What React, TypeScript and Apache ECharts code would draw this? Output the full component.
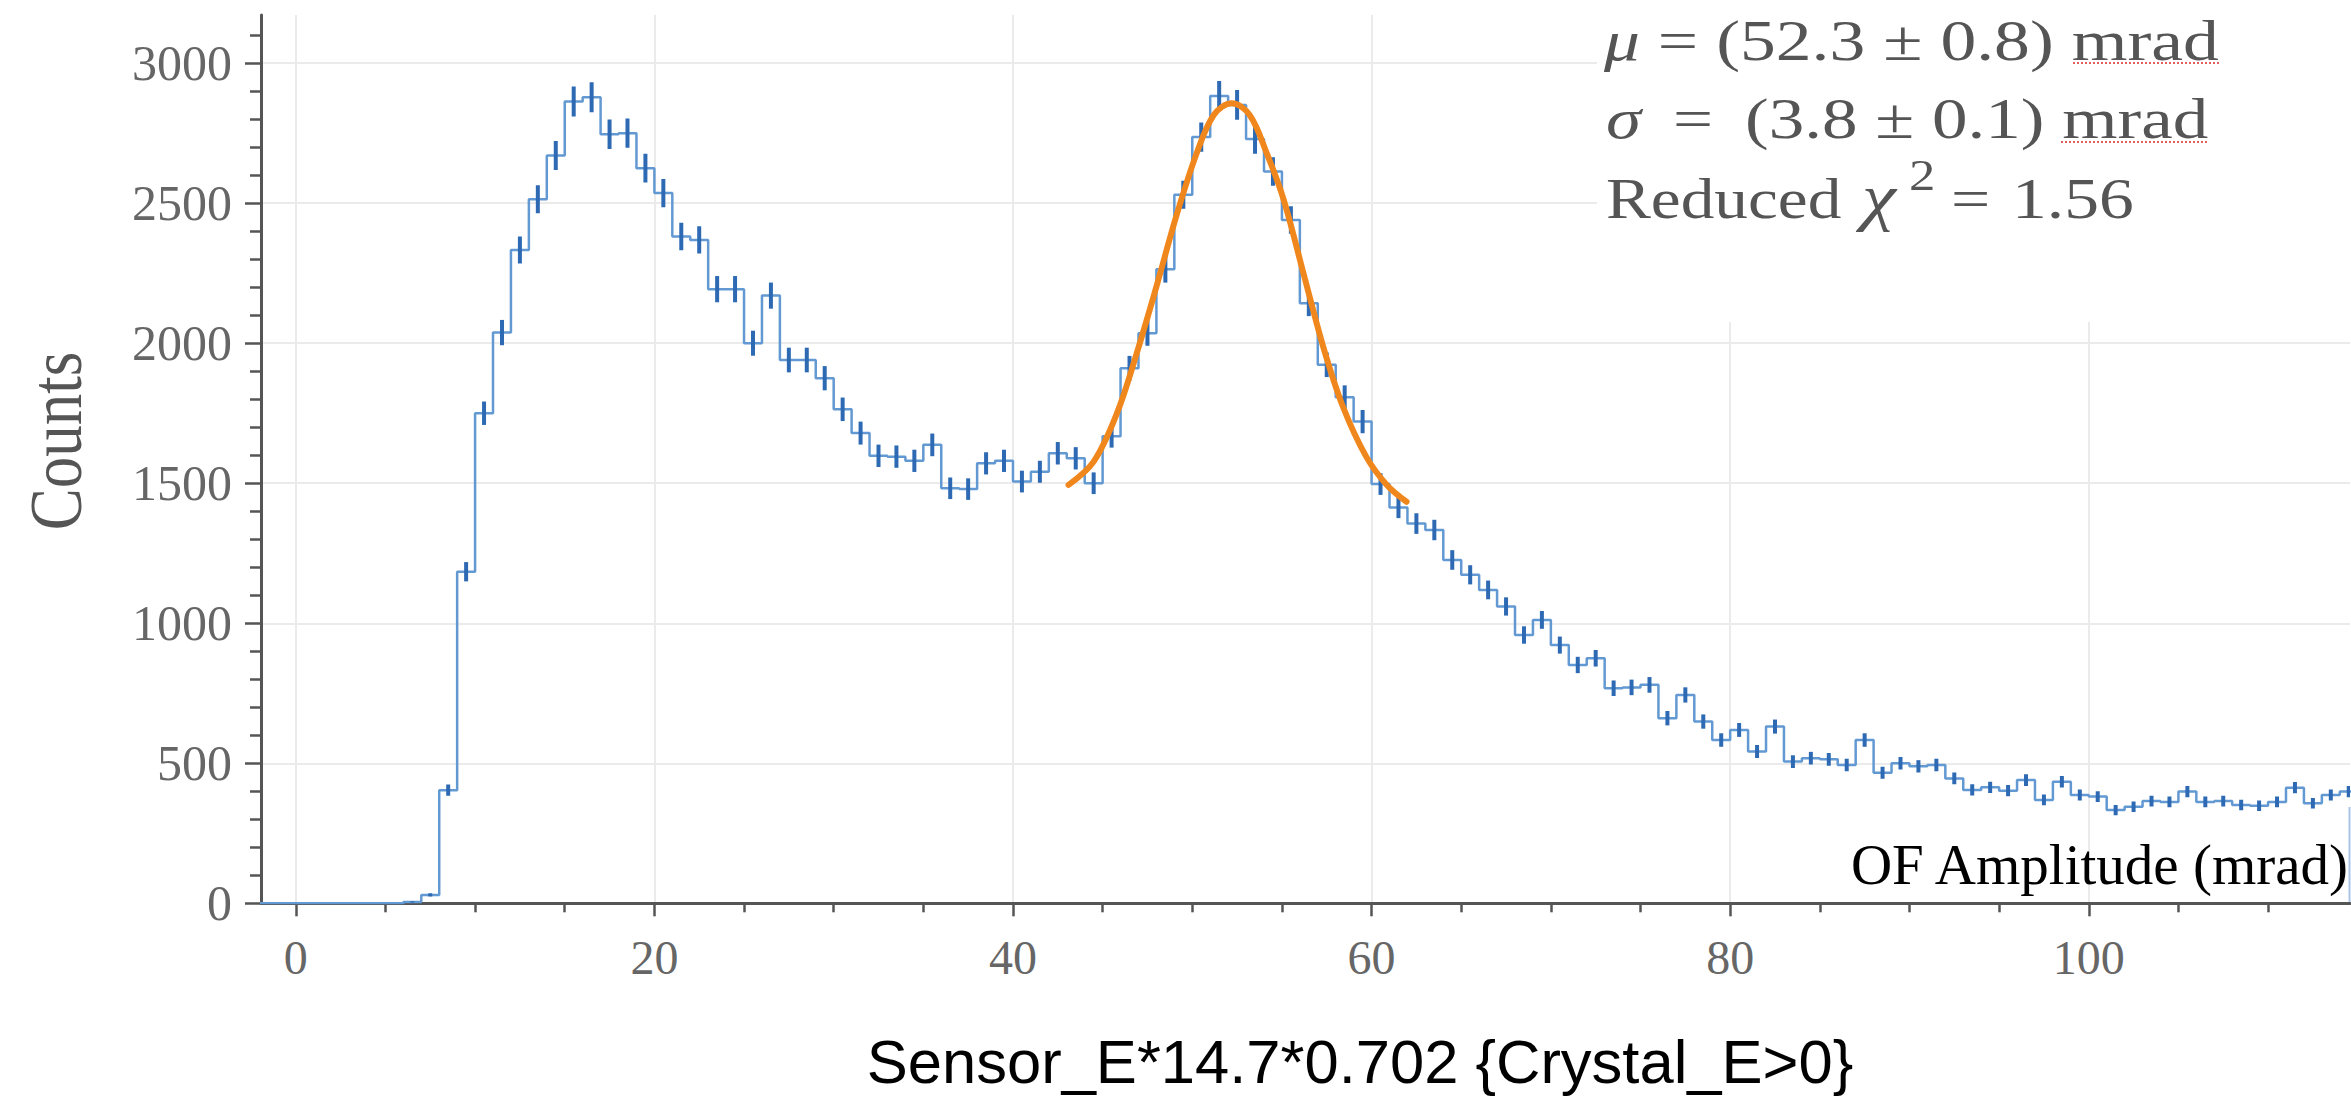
import React, { useEffect, useRef } from 'react';
import * as echarts from 'echarts';

// ---------- data ----------
const BIN_LOW = -2;
const BIN_WIDTH = 1;
// counts per 1-mrad bin, starting at BIN_LOW
const counts: number[] = [
  0, 0, // -2, -1
  0, 0, 0, 0, 0, 0, 5, 30, 404, 1184, // 0-9
  1750, 2038, 2333, 2514, 2670, 2863, 2878, 2746, 2750, 2625, // 10-19
  2536, 2381, 2369, 2193, 2193, 2000, 2170, 1940, 1940, 1875, // 20-29
  1764, 1679, 1598, 1595, 1580, 1637, 1482, 1479, 1571, 1580, // 30-39
  1506, 1541, 1607, 1589, 1500, 1668, 1911, 2036, 2264, 2530, // 40-49
  2736, 2883, 2851, 2729, 2613, 2440, 2143, 1923, 1807, 1720, // 50-59
  1497, 1413, 1356, 1333, 1226, 1173, 1119, 1060, 958, 1012, // 60-69
  922, 851, 875, 768, 771, 780, 661, 744, 649, 583, // 70-79
  619, 542, 631, 506, 518, 514, 494, 583, 466, 500, // 80-89
  489, 494, 446, 405, 414, 402, 440, 369, 434, 387, // 90-99
  381, 333, 345, 365, 362, 399, 362, 365, 351, 348, // 100-109
  362, 413, 357, 387, 399, // 110-114
];

// gaussian fit curve
const fitX: number[] = [43.1, 44.5, 45.8, 46.9, 48.0, 49.1, 50.25, 51.2, 52.2, 53.2, 54.15, 55.1, 56.2, 57.3, 58.4, 59.7, 60.85, 61.95];
const fitY: number[] = [1494, 1577, 1750, 1964, 2202, 2452, 2679, 2815, 2857, 2815, 2679, 2512, 2250, 1988, 1774, 1595, 1494, 1434];

const xMajorTicks: number[] = [0, 20, 40, 60, 80, 100];
const xMinorTicks: number[] = [5, 10, 15, 25, 30, 35, 45, 50, 55, 65, 70, 75, 85, 90, 95, 105, 110];
const yMajorTicks: number[] = [0, 500, 1000, 1500, 2000, 2500, 3000];
const yMinorTicks: number[] = [
  100, 200, 300, 400, 600, 700, 800, 900, 1100, 1200, 1300, 1400, 1600, 1700, 1800, 1900,
  2100, 2200, 2300, 2400, 2600, 2700, 2800, 2900, 3100,
];

const xTitle = 'Sensor_E*14.7*0.702 {Crystal_E>0}';
const yTitle = 'Counts';
const unitNote = 'OF Amplitude (mrad)';
const fitLine1 = '{i|μ}{n| = (52.3 ± 0.8) mrad}';
const fitLine2 = '{i|σ}{n| \u2009=\u2009 (3.8 ± 0.1) mrad}';

// ---------- styles / layout ----------
const X_MIN = -1.94;
const X_MAX = 114.57;
const Y_MAX = 3172;
const SERIF = '"Liberation Serif", "Times New Roman", serif';
const SANS = '"Liberation Sans", Arial, sans-serif';
const AXIS_COLOR = '#555555';
const LABEL_COLOR = '#666666';
const GRID_COLOR = '#ebebeb';
const STEP_COLOR = '#6399d2';
const ERR_COLOR = '#2d6ab3';
const FIT_COLOR = '#f0871c';
const NOTE_COLOR = '#555555';
const NOTE_SIZE = 58;
const NOTE_STRETCH = 1.2;

function buildOption() {
  const histData: number[][] = counts.map((c, i) => [BIN_LOW + i * BIN_WIDTH, c]);
  histData.push([BIN_LOW + counts.length * BIN_WIDTH, counts[counts.length - 1]]);
  const errData: number[][] = counts
    .map((c, i) => [BIN_LOW + (i + 0.5) * BIN_WIDTH, c, Math.sqrt(c)])
    .filter((d) => d[1] > 0);
  const fitData: number[][] = fitX.map((x, i) => [x, fitY[i]]);

  const noteFont = (italic: boolean, size = NOTE_SIZE) => ({
    fill: NOTE_COLOR,
    fontFamily: SERIF,
    fontSize: size,
    fontStyle: italic ? 'italic' : 'normal',
  });

  const noteText = (text: string, x: number, baseline: number, opts: any = {}) => {
    const size = opts.size || NOTE_SIZE;
    return {
      type: 'text',
      x,
      y: baseline - 0.3375 * size,
      scaleX: opts.stretch || NOTE_STRETCH,
      z: 50,
      silent: true,
      style: {
        text,
        ...noteFont(!!opts.italic, size),
        align: 'left',
        textAlign: 'left',
        verticalAlign: 'middle',
        textVerticalAlign: 'middle',
      },
    };
  };

  const richLine = (text: string, x: number, baseline: number, stretch: number) => ({
    type: 'text',
    x,
    y: baseline - 0.3375 * NOTE_SIZE,
    scaleX: stretch,
    z: 50,
    silent: true,
    style: {
      text,
      ...noteFont(false),
      rich: { i: noteFont(true), n: noteFont(false) },
      align: 'left',
      textAlign: 'left',
      verticalAlign: 'middle',
      textVerticalAlign: 'middle',
    },
  });

  const tickLine = { color: AXIS_COLOR, width: 2.5 };

  return {
    animation: false,
    backgroundColor: '#ffffff',
    textStyle: { fontFamily: SERIF },
    grid: {
      left: 261,
      top: 15,
      right: 1,
      bottom: 211.7,
      containLabel: false,
      outerBoundsMode: 'none',
    },
    xAxis: [
      {
        type: 'value',
        min: X_MIN,
        max: X_MAX,
        position: 'bottom',
        axisLine: { show: true, onZero: false, lineStyle: { color: AXIS_COLOR, width: 3 } },
        axisTick: { show: true, inside: false, length: 13, customValues: xMajorTicks, lineStyle: tickLine },
        axisLabel: {
          show: true,
          customValues: xMajorTicks,
          margin: 30,
          fontFamily: SERIF,
          fontSize: 48,
          color: LABEL_COLOR,
          formatter: (v: number) => (Math.abs(v - Math.round(v / 20) * 20) < 1e-6 ? String(Math.round(v)) : ''),
        },
        splitLine: { show: true, lineStyle: { color: GRID_COLOR, width: 2 } },
        minorTick: { show: false },
        minorSplitLine: { show: false },
      },
      {
        type: 'value',
        min: X_MIN,
        max: X_MAX,
        position: 'bottom',
        gridIndex: 0,
        axisLine: { show: false, onZero: false },
        axisLabel: { show: false },
        splitLine: { show: false },
        axisTick: { show: true, inside: false, length: 9, customValues: xMinorTicks, lineStyle: tickLine },
      },
    ],
    yAxis: [
      {
        type: 'value',
        min: 0,
        max: Y_MAX,
        position: 'left',
        axisLine: { show: true, onZero: false, lineStyle: { color: AXIS_COLOR, width: 3 } },
        axisTick: { show: true, inside: false, length: 16, customValues: yMajorTicks, lineStyle: tickLine },
        axisLabel: {
          show: true,
          customValues: yMajorTicks,
          margin: 29,
          fontFamily: SERIF,
          fontSize: 50,
          color: LABEL_COLOR,
          formatter: (v: number) => (Math.abs(v % 500) < 1e-6 ? String(v) : ''),
        },
        splitLine: { show: true, lineStyle: { color: GRID_COLOR, width: 2 } },
        minorTick: { show: false },
      },
      {
        type: 'value',
        min: 0,
        max: Y_MAX,
        position: 'left',
        gridIndex: 0,
        axisLine: { show: false, onZero: false },
        axisLabel: { show: false },
        splitLine: { show: false },
        axisTick: { show: true, inside: false, length: 11, customValues: yMinorTicks, lineStyle: tickLine },
      },
    ],
    series: [
      {
        type: 'line',
        name: 'histogram',
        xAxisIndex: 0,
        yAxisIndex: 0,
        data: histData,
        step: 'end',
        symbol: 'none',
        showSymbol: false,
        silent: true,
        lineStyle: { color: STEP_COLOR, width: 2.5 },
        z: 2,
      },
      {
        type: 'custom',
        name: 'errors',
        xAxisIndex: 0,
        yAxisIndex: 0,
        data: errData,
        silent: true,
        clip: true,
        z: 3,
        renderItem: (params: any, api: any) => {
          const x = api.value(0);
          const y = api.value(1);
          const e = api.value(2);
          const p1 = api.coord([x, y - e]);
          const p2 = api.coord([x, y + e]);
          return {
            type: 'line',
            shape: { x1: p1[0], y1: p1[1], x2: p2[0], y2: p2[1] },
            style: { stroke: ERR_COLOR, lineWidth: 4 },
          };
        },
      },
      {
        type: 'line',
        name: 'fit',
        xAxisIndex: 0,
        yAxisIndex: 0,
        data: fitData,
        smooth: 0.35,
        symbol: 'none',
        showSymbol: false,
        silent: true,
        lineStyle: { color: FIT_COLOR, width: 6, cap: 'round' },
        z: 4,
      },
    ],
    graphic: [
      // white text-box background hiding the grid in the upper right
      {
        type: 'rect',
        z: 40,
        silent: true,
        shape: { x: 1597, y: 0, width: 760, height: 322 },
        style: { fill: '#ffffff' },
      },
      // fit results
      richLine(fitLine1, 1604, 60, 1.235),
      richLine(fitLine2, 1606, 138.3, 1.225),
      noteText('Reduced', 1606, 218.3, { stretch: 1.16 }),
      noteText('χ', 1862, 218.3, { italic: true, size: 64 }),
      noteText('2', 1909, 190, { size: 44 }),
      noteText('=', 1951, 218.3),
      noteText('1.56', 2012, 218.3),
      // spell-check underlines
      {
        type: 'line',
        z: 51,
        silent: true,
        shape: { x1: 2073, y1: 63, x2: 2220, y2: 63 },
        style: { stroke: '#e06060', lineWidth: 2, lineDash: [2, 2] },
      },
      {
        type: 'line',
        z: 51,
        silent: true,
        shape: { x1: 2061, y1: 142, x2: 2208, y2: 142 },
        style: { stroke: '#e06060', lineWidth: 2, lineDash: [2, 2] },
      },
      // unit note
      {
        type: 'text',
        x: 2348,
        y: 884 - 0.3375 * 57,
        z: 50,
        silent: true,
        style: {
          text: unitNote,
          fill: '#000000',
          fontFamily: SERIF,
          fontSize: 57,
          align: 'right',
          textAlign: 'right',
          verticalAlign: 'middle',
          textVerticalAlign: 'middle',
        },
      },
      {
        type: 'line',
        z: 50,
        silent: true,
        shape: { x1: 2349.5, y1: 807, x2: 2349.5, y2: 902 },
        style: { stroke: '#a9c4e6', lineWidth: 2 },
      },
      // x title
      {
        type: 'text',
        x: 1360,
        y: 1083 - 0.3465 * 61.5,
        z: 50,
        silent: true,
        style: {
          text: xTitle,
          fill: '#000000',
          fontFamily: SANS,
          fontSize: 61.5,
          align: 'center',
          textAlign: 'center',
          verticalAlign: 'middle',
          textVerticalAlign: 'middle',
        },
      },
      // y title
      {
        type: 'text',
        x: 56,
        y: 441,
        rotation: Math.PI / 2,
        scaleY: 1.18,
        z: 50,
        silent: true,
        style: {
          text: yTitle,
          fill: '#555555',
          fontFamily: SERIF,
          fontSize: 63,
          align: 'center',
          textAlign: 'center',
          verticalAlign: 'middle',
          textVerticalAlign: 'middle',
        },
      },
    ],
  };
}

export default function App() {
  const ref = useRef<HTMLDivElement>(null);
  useEffect(() => {
    document.body.style.margin = '0';
    const chart = echarts.init(ref.current as HTMLDivElement, undefined, { renderer: 'svg' });
    chart.setOption(buildOption() as any);
    return () => {
      chart.dispose();
    };
  }, []);
  return <div ref={ref} style={{ width: 2351, height: 1115 }} />;
}
